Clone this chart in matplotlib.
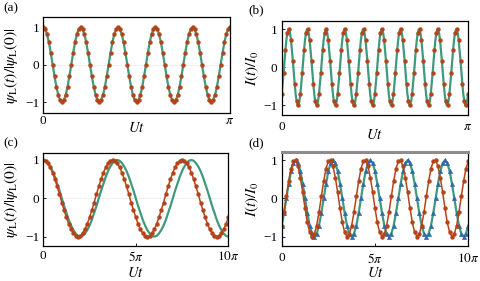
import numpy as np
import matplotlib
matplotlib.use("Agg")
import matplotlib.pyplot as plt

plt.rcParams['font.family'] = ['Liberation Serif', 'DejaVu Serif']
plt.rcParams['mathtext.fontset'] = 'stix'
plt.rcParams['axes.unicode_minus'] = True

# (a) psi_L(t)/|psi_L(0)| on [0, pi], sampled points (green line and red dots coincide)
psi_a = [1, .95, .81, .59, .31, 0, -.31, -.59, -.81, -.95, -1, -.95, -.81, -.59, -.31, 0, .31, .59, .81, .95,
         1, .95, .81, .59, .31, 0, -.31, -.59, -.81, -.95, -1, -.95, -.81, -.59, -.31, 0, .31, .59, .81, .95,
         1, .95, .81, .59, .31, 0, -.31, -.59, -.81, -.95, -1, -.95, -.81, -.59, -.31, 0, .31, .59, .81, .95,
         1, .95, .81, .59, .31, 0, -.31, -.59, -.81, -.95, -1, -.95, -.81, -.59, -.31, 0, .31, .59, .81, .95,
         1, .95, .81, .59, .31, 0, -.31, -.59, -.81, -.95, -1, -.95, -.81, -.59, -.31, 0, .31, .59, .81, .95,
         1]

# (b) I(t)/I0 on [0, pi]: red dots and the green curve
cur_b_dots = [-.71, -.16, .45, .89, .99, .71, .16, -.45, -.89, -.99,
              -.71, -.16, .45, .89, .99, .71, .16, -.45, -.89, -.99,
              -.71, -.16, .45, .89, .99, .71, .16, -.45, -.89, -.99,
              -.71, -.16, .45, .89, .99, .71, .16, -.45, -.89, -.99,
              -.71, -.16, .45, .89, .99, .71, .16, -.45, -.89, -.99,
              -.71, -.16, .45, .89, .99, .71, .16, -.45, -.89, -.99,
              -.71, -.16, .45, .89, .99, .71, .16, -.45, -.89, -.99,
              -.71, -.16, .45, .89, .99, .71, .16, -.45, -.89, -.99,
              -.71, -.16, .45, .89, .99, .71, .16, -.45, -.89, -.99,
              -.71, -.16, .45, .89, .99, .71, .16, -.45, -.89, -.99,
              -.71]
cur_b_line = [-.71, -.45, -.16, .16, .45, .71, .89, .99, .99, .89, .71, .45, .16, -.16, -.45, -.71, -.89, -.99, -.99, -.89,
              -.71, -.45, -.16, .16, .45, .71, .89, .99, .99, .89, .71, .45, .16, -.16, -.45, -.71, -.89, -.99, -.99, -.89,
              -.71, -.45, -.16, .16, .45, .71, .89, .99, .99, .89, .71, .45, .16, -.16, -.45, -.71, -.89, -.99, -.99, -.89,
              -.71, -.45, -.16, .16, .45, .71, .89, .99, .99, .89, .71, .45, .16, -.16, -.45, -.71, -.89, -.99, -.99, -.89,
              -.71, -.45, -.16, .16, .45, .71, .89, .99, .99, .89, .71, .45, .16, -.16, -.45, -.71, -.89, -.99, -.99, -.89,
              -.71, -.45, -.16, .16, .45, .71, .89, .99, .99, .89, .71, .45, .16, -.16, -.45, -.71, -.89, -.99, -.99, -.89,
              -.71, -.45, -.16, .16, .45, .71, .89, .99, .99, .89, .71, .45, .16, -.16, -.45, -.71, -.89, -.99, -.99, -.89,
              -.71, -.45, -.16, .16, .45, .71, .89, .99, .99, .89, .71, .45, .16, -.16, -.45, -.71, -.89, -.99, -.99, -.89,
              -.71, -.45, -.16, .16, .45, .71, .89, .99, .99, .89, .71, .45, .16, -.16, -.45, -.71, -.89, -.99, -.99, -.89,
              -.71, -.45, -.16, .16, .45, .71, .89, .99, .99, .89, .71, .45, .16, -.16, -.45, -.71, -.89, -.99, -.99, -.89,
              -.71]

# (c) psi_L on [0, 10pi]: green reference curve and red dotted series
psi_c_green = [1, .98, .92, .83, .71, .56, .38, .2, 0, -.2, -.38, -.56, -.71, -.83, -.92, -.98,
               -1, -.98, -.92, -.83, -.71, -.56, -.38, -.2, 0, .2, .38, .56, .71, .83, .92, .98,
               1, .98, .92, .83, .71, .56, .38, .2, 0, -.2, -.38, -.56, -.71, -.83, -.92, -.98,
               -1, -.98, -.92, -.83, -.71, -.56, -.38, -.2, 0, .2, .38, .56, .71, .83, .92, .98,
               1, .98, .92, .83, .71, .56, .38, .2, 0, -.2, -.38, -.56, -.71, -.83, -.92, -.98,
               -1]
psi_c_red = [1, .98, .91, .81, .67, .5, .31, .11, -.11, -.31, -.5, -.67, -.81, -.91, -.98,
             -1, -.98, -.91, -.81, -.67, -.5, -.31, -.11, .11, .31, .5, .67, .81, .91, .98,
             1, .98, .91, .81, .67, .5, .31, .11, -.11, -.31, -.5, -.67, -.81, -.91, -.98,
             -1, -.98, -.91, -.81, -.67, -.5, -.31, -.11, .11, .31, .5, .67, .81, .91, .98,
             1, .98, .91, .81, .67, .5, .31, .11, -.11, -.31, -.5, -.67, -.81, -.91, -.98,
             -1, -.98, -.91, -.81, -.67, -.5]

# (d) I(t)/I0 on [0, 10pi]: blue triangles on green, red dotted series
cur_d_blue = [-.71, -.38, 0, .38, .71, .92, 1, .92, .71, .38, 0, -.38, -.71, -.92, -1, -.92,
              -.71, -.38, 0, .38, .71, .92, 1, .92, .71, .38, 0, -.38, -.71, -.92, -1, -.92,
              -.71, -.38, 0, .38, .71, .92, 1, .92, .71, .38, 0, -.38, -.71, -.92, -1, -.92,
              -.71, -.38, 0, .38, .71, .92, 1, .92, .71, .38, 0, -.38, -.71, -.92, -1, -.92,
              -.71, -.38, 0, .38, .71, .92, 1, .92, .71, .38, 0, -.38, -.71, -.92, -1, -.92,
              -.71]
cur_d_red = [-.71, -.36, .05, .45, .78, .97, .99, .84, .54, .16, -.26, -.63, -.89, -1, -.93,
             -.71, -.36, .05, .45, .78, .97, .99, .84, .54, .16, -.26, -.63, -.89, -1, -.93,
             -.71, -.36, .05, .45, .78, .97, .99, .84, .54, .16, -.26, -.63, -.89, -1, -.93,
             -.71, -.36, .05, .45, .78, .97, .99, .84, .54, .16, -.26, -.63, -.89, -1, -.93,
             -.71, -.36, .05, .45, .78, .97, .99, .84, .54, .16, -.26, -.63, -.89, -1, -.93,
             -.71, -.36, .05, .45, .78, .97]

xticks_short = [0, np.pi]
xticklabels_short = ['0', r'$\pi$']
xticks_long = [0, 5 * np.pi, 10 * np.pi]
xticklabels_long = ['0', r'$5\pi$', r'$10\pi$']
yticks = [-1, 0, 1]
yticklabels = ['\u22121', '0', '1']

GREEN = '#3f9a7b'
RED = '#b5431a'
BLUE = '#2e69b0'

W, H = 480, 281


def rect(l, r, t, b):
    return [l / W, 1 - b / H, (r - l) / W, (b - t) / H]


def style(ax, xmax, ylim, xt, xtl, ylab, ylab_size, ylab_x, xlab_y, xpad):
    ax.set_xlim(0, xmax)
    ax.set_ylim(*ylim)
    ax.axhline(0, color='#ececec', lw=0.6, zorder=0)
    ax.set_xticks(xt)
    ax.set_xticklabels(xtl)
    ax.set_yticks(yticks)
    ax.set_yticklabels(yticklabels)
    ax.tick_params(direction='in', length=2.5, width=0.6, labelsize=9.5, pad=3)
    ax.tick_params(axis='x', pad=xpad)
    for s in ax.spines.values():
        s.set_linewidth(0.9)
    ax.set_ylabel(ylab, fontsize=ylab_size)
    ax.yaxis.set_label_coords(ylab_x, 0.5)
    ax.set_xlabel(r'$Ut$', fontsize=10.5)
    ax.xaxis.set_label_coords(0.5, xlab_y)


fig = plt.figure(figsize=(4.8, 2.81), dpi=100)

psi_lab = r'$\psi_{\rm L}(t)/|\psi_{\rm L}(0)|$'
cur_lab = r'$I(t)/I_0$'

# (a)
ax = fig.add_axes(rect(43.3, 230, 17.3, 113.3))
t = np.linspace(0, np.pi, len(psi_a))
ax.plot(t, psi_a, color=GREEN, lw=1.6)
ax.plot(t, psi_a, 'o', color=RED, ms=2.8, mec=RED, mew=0.3)
style(ax, np.pi, (-1.3, 1.26), xticks_short, xticklabels_short, psi_lab, 11.2, -0.125, -0.085, 1)
fig.text(3 / W, 1 - 8 / H, '(a)', fontsize=9.5, va='center')

# (b)
ax = fig.add_axes(rect(281.7, 468, 20.7, 115))
ax.plot(np.linspace(0, np.pi, len(cur_b_line)), cur_b_line, color=GREEN, lw=1.6)
ax.plot(np.linspace(0, np.pi, len(cur_b_dots)), cur_b_dots, 'o', color=RED, ms=2.8, mec=RED, mew=0.3)
style(ax, np.pi, (-1.25, 1.22), xticks_short, xticklabels_short, cur_lab, 11, -0.11, -0.135, 4)
fig.text(248 / W, 1 - 10 / H, '(b)', fontsize=9.5, va='center')

# (c)
ax = fig.add_axes(rect(43.3, 228.3, 152.7, 246))
ax.plot(np.linspace(0, 10 * np.pi, len(psi_c_green)), psi_c_green, color=GREEN, lw=1.6)
ax.plot(np.linspace(0, 10 * np.pi, len(psi_c_red)), psi_c_red, '-o', color=RED, lw=1.1, ms=2.8, mec=RED, mew=0.3)
style(ax, 10 * np.pi, (-1.245, 1.19), xticks_long, xticklabels_long, psi_lab, 11.2, -0.125, -0.215, 3)
fig.text(3 / W, 1 - 143 / H, '(c)', fontsize=9.5, va='center')

# (d)
ax = fig.add_axes(rect(281.7, 468.3, 151.7, 246))
td = np.linspace(0, 10 * np.pi, len(cur_d_blue))
ax.plot(td, cur_d_blue, color=GREEN, lw=1.6)
ax.plot(td, cur_d_blue, '^', color=BLUE, ms=3.2, mec=BLUE, mew=0.3)
ax.plot(np.linspace(0, 10 * np.pi, len(cur_d_red)), cur_d_red, '-o', color=RED, lw=1.1, ms=2.8, mec=RED, mew=0.3)
style(ax, 10 * np.pi, (-1.245, 1.22), xticks_long, xticklabels_long, cur_lab, 11, -0.11, -0.215, 4)
ax.spines['top'].set_color('#8c8c8c')
ax.spines['top'].set_linewidth(2.2)
fig.text(248 / W, 1 - 143 / H, '(d)', fontsize=9.5, va='center')

fig.savefig('out.png', dpi=100)
